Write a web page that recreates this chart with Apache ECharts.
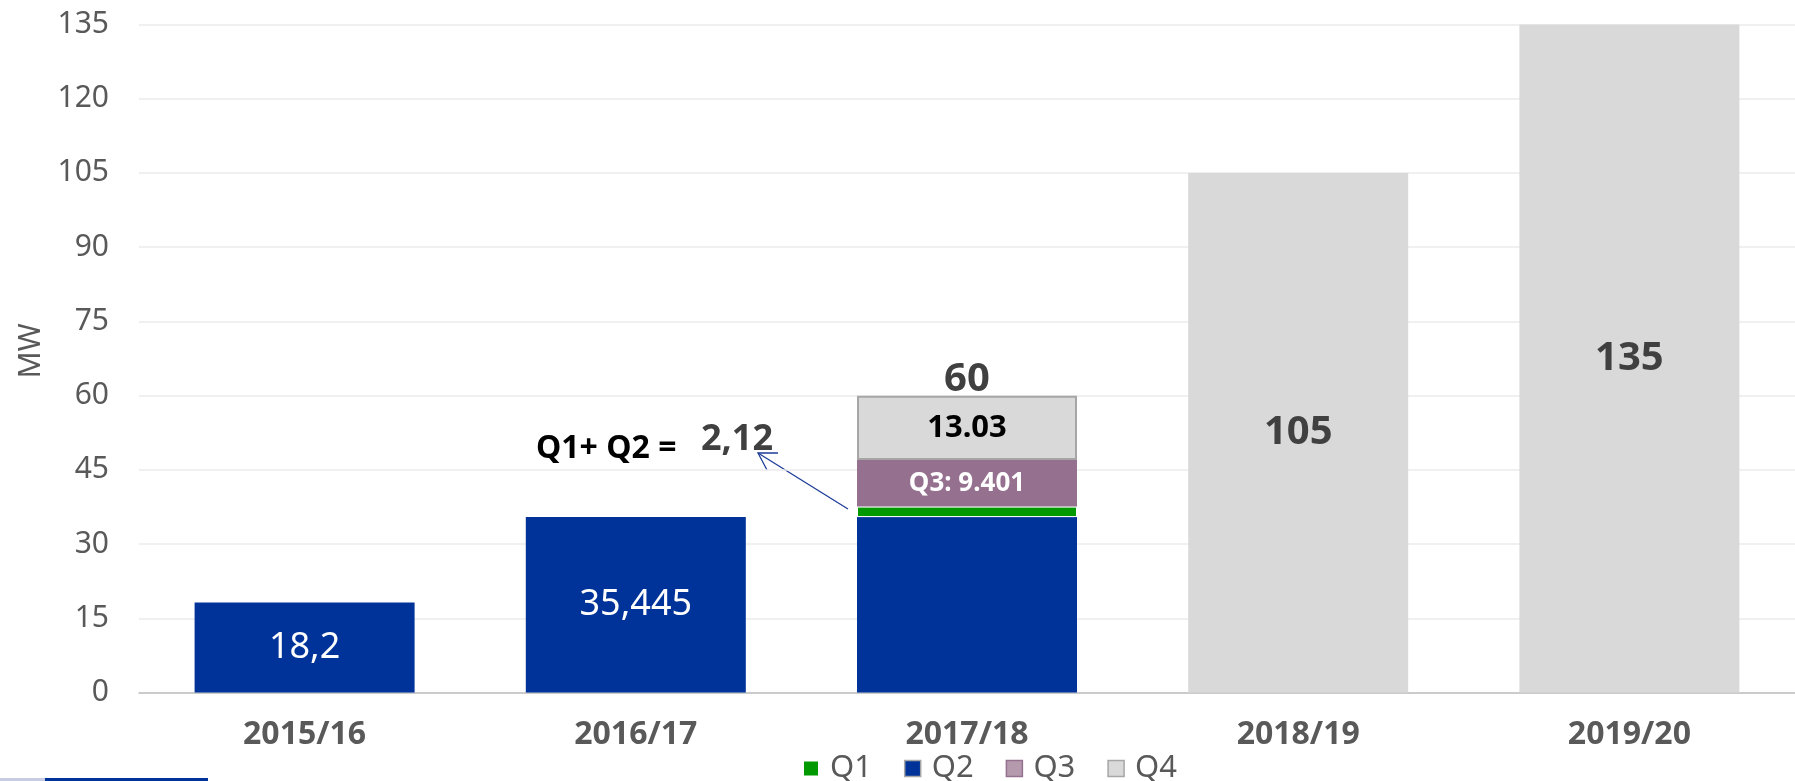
<!DOCTYPE html>
<html>
<head>
<meta charset="utf-8">
<script src="https://cdn.jsdelivr.net/npm/echarts@6/dist/echarts.min.js"></script>
<style>
  html, body { margin: 0; padding: 0; background: #fff; }
  #chart { width: 1795px; height: 781px; }
</style>
</head>
<body>
<div id="chart"></div>
<script>
// data
const categories = ['2015/16', '2016/17', '2017/18', '2018/19', '2019/20'];
const q1 = [null, null, 2.12, null, null];
const q2 = [18.2, 35.445, 35.445, null, null];
const q3 = [null, null, 9.401, null, null];
const q4 = [null, null, 13.03, 105, 135];
const yTicks = { min: 0, max: 135, interval: 15 };

const FONT = '"Noto Sans", "DejaVu Sans", sans-serif';
const totalIdx = 2;
const total = Math.round(q1[totalIdx] + q2[totalIdx] + q3[totalIdx] + q4[totalIdx]);

const chart = echarts.init(document.getElementById('chart'));

chart.setOption({
  animation: false,
  textStyle: { fontFamily: FONT },
  grid: { left: 139, right: 0, top: 24.5, bottom: 88.5 },
  legend: {
    data: [
      { name: 'Q1' },
      { name: 'Q2', itemStyle: { borderColor: '#a6a6a6', borderWidth: 1.5 } },
      { name: 'Q3', itemStyle: { color: '#b59aae', borderColor: '#96708f', borderWidth: 1.5 } },
      { name: 'Q4', itemStyle: { borderColor: '#a6a6a6', borderWidth: 1.5 } }
    ],
    left: 797,
    top: 748,
    icon: 'rect',
    itemWidth: 16,
    itemHeight: 16,
    itemGap: 32,
    textStyle: { color: '#595959', fontSize: 31, fontFamily: FONT, padding: [0, 0, 0, 6] }
  },
  xAxis: {
    type: 'category',
    data: categories,
    axisLine: { lineStyle: { color: '#bfbfbf', width: 1.5 } },
    axisTick: { show: false },
    axisLabel: { color: '#595959', fontSize: 32, fontWeight: 'bold', margin: 26 }
  },
  yAxis: {
    type: 'value',
    min: yTicks.min,
    max: yTicks.max,
    interval: yTicks.interval,
    axisLine: { show: false },
    axisTick: { show: false },
    axisLabel: { color: '#595959', fontSize: 30, margin: 30 },
    splitLine: { lineStyle: { color: '#ebebeb', width: 1.5 } }
  },
  series: [
    {
      name: 'Q2',
      type: 'bar',
      stack: 'total',
      barWidth: 220,
      itemStyle: { color: '#003399' },
      label: {
        show: true,
        position: 'inside',
        color: '#fff',
        fontSize: 36,
        formatter: p => (p.dataIndex === 2 ? '' : String(p.value).replace('.', ','))
      },
      data: q2
    },
    {
      name: 'Q1',
      type: 'bar',
      stack: 'total',
      barWidth: 220,
      itemStyle: { color: '#009900', borderColor: '#fff', borderWidth: 1 },
      data: q1
    },
    {
      name: 'Q3',
      type: 'bar',
      stack: 'total',
      barWidth: 220,
      itemStyle: { color: '#96708f', borderColor: '#96708f', borderWidth: 1.5 },
      label: {
        show: true,
        position: 'inside',
        color: '#fff',
        fontSize: 26,
        fontWeight: 'bold',
        formatter: p => 'Q3: ' + p.value
      },
      data: q3
    },
    {
      name: 'Q4',
      type: 'bar',
      stack: 'total',
      barWidth: 220,
      itemStyle: { color: '#d9d9d9' },
      label: {
        show: true,
        position: 'inside',
        color: '#404040',
        fontSize: 40,
        fontWeight: 'bold'
      },
      data: q4.map((v, i) => i === totalIdx
        ? {
            value: v,
            itemStyle: { borderColor: '#a6a6a6', borderWidth: 2 },
            label: { color: '#000', fontSize: 31, formatter: '{c}' }
          }
        : v),
      markPoint: {
        symbol: 'rect',
        symbolSize: 0,
        label: {
          show: true,
          position: 'top',
          distance: -4,
          color: '#404040',
          fontSize: 40,
          fontWeight: 'bold',
          formatter: String(total)
        },
        data: [{ coord: [categories[totalIdx], total] }]
      }
    }
  ],
  graphic: [
    {
      type: 'text',
      x: 31,
      y: 351,
      rotation: Math.PI / 2,
      style: { text: 'MW', fill: '#595959', font: '30px ' + FONT, align: 'center', verticalAlign: 'middle' }
    },
    {
      type: 'text',
      x: 536,
      y: 449,
      style: { text: 'Q1+ Q2 =', fill: '#000', font: 'bold 32px ' + FONT, verticalAlign: 'middle' }
    },
    {
      type: 'text',
      x: 701,
      y: 440,
      style: { text: '2,12', fill: '#404040', font: 'bold 36px ' + FONT, verticalAlign: 'middle' }
    },
    {
      type: 'polyline',
      shape: { points: [[848, 509], [758, 453]] },
      style: { stroke: '#1f3d99', lineWidth: 1.3, fill: null }
    },
    {
      type: 'polyline',
      shape: { points: [[778, 453], [758, 453], [767, 470]] },
      style: { stroke: '#1f3d99', lineWidth: 1.3, fill: null }
    },
    {
      type: 'rect',
      shape: { x: 0, y: 778, width: 45, height: 3 },
      style: { fill: '#c6cde3' }
    },
    {
      type: 'rect',
      shape: { x: 45, y: 778, width: 163, height: 3 },
      style: { fill: '#003399' }
    }
  ]
});
</script>
</body>
</html>
